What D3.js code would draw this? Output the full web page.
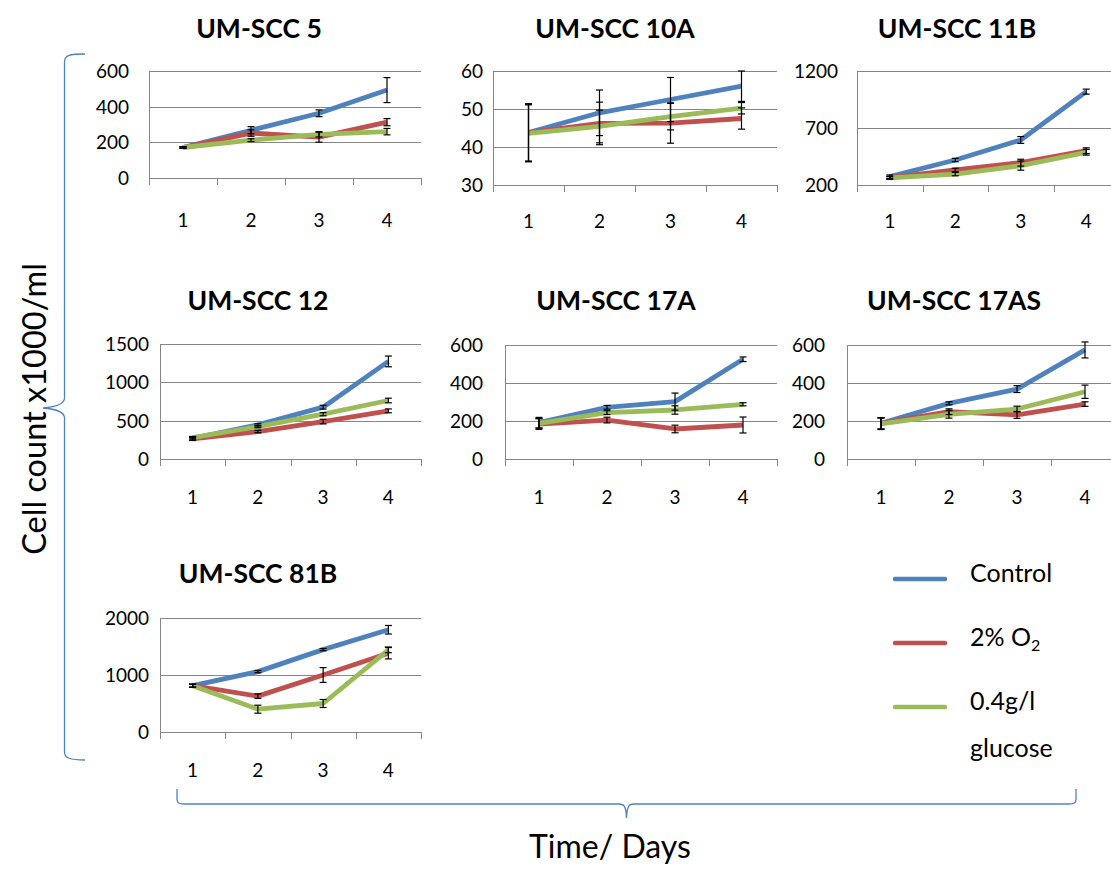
<!DOCTYPE html>
<html>
<head>
<meta charset="utf-8">
<script src="https://cdn.jsdelivr.net/npm/d3@7"></script>
<style>
  html, body { margin: 0; padding: 0; background: #fff; }
  svg { display: block; font-family: Lato, "Open Sans", sans-serif; }
</style>
</head>
<body>
<svg id="chart" width="1111" height="869"></svg>
<script>
// Growth of UM-SCC cell lines over four days under three culture conditions.
const days = [1, 2, 3, 4];
const cellLines = ["UM-SCC 5", "UM-SCC 10A", "UM-SCC 11B", "UM-SCC 12", "UM-SCC 17A", "UM-SCC 17AS", "UM-SCC 81B"];
const seriesNames = ["Control", "2% O2", "0.4g/l glucose"];

// Mean cell counts (x1000/ml), one row per cell line
const control = [
  [171, 268, 363, 493],
  [43.8, 49.0, 52.5, 56.0],
  [273, 419, 595, 1019],
  [270, 445, 676, 1273],
  [191, 272, 302, 525],
  [188, 293, 368, 574],
  [812, 1059, 1445, 1794]
];
const lowOxygen = [
  [171, 252, 229, 313],
  [43.8, 46.2, 46.3, 47.5],
  [265, 332, 396, 501],
  [262, 358, 488, 628],
  [184, 205, 158, 179],
  [188, 249, 232, 289],
  [812, 629, 1000, 1382]
];
const lowGlucose = [
  [171, 212, 245, 260],
  [43.6, 45.4, 48.0, 50.2],
  [262, 296, 370, 487],
  [279, 423, 584, 763],
  [188, 244, 258, 288],
  [185, 235, 263, 354],
  [812, 400, 500, 1441]
];

// Error bar half-widths (standard deviation)
const controlErr = [
  [4, 20, 19, 70],
  [7.6, 6.0, 5.8, 4.0],
  [15, 15, 30, 22],
  [20, 15, 25, 70],
  [28, 10, 45, 12],
  [30, 8, 18, 42],
  [30, 20, 20, 75]
];
const lowOxygenErr = [
  [4, 18, 28, 20],
  [7.5, 5.6, 5.3, 2.8],
  [12, 15, 30, 25],
  [20, 15, 30, 25],
  [28, 15, 20, 42],
  [30, 15, 18, 12],
  [25, 40, 130, 100]
];
const lowGlucoseErr = [
  [4, 8, 15, 18],
  [7.5, 4.3, 3.5, 1.5],
  [12, 15, 40, 25],
  [15, 15, 20, 30],
  [25, 10, 22, 8],
  [30, 20, 15, 35],
  [25, 70, 70, 50]
];

// Value axis ticks per cell line
const yTicks = [
  [0, 200, 400, 600],
  [30, 40, 50, 60],
  [200, 700, 1200],
  [0, 500, 1000, 1500],
  [0, 200, 400, 600],
  [0, 200, 400, 600],
  [0, 1000, 2000]
];

const colors = ["#4f81bd", "#c0504d", "#9bbb59"];
const means = [control, lowOxygen, lowGlucose];
const errs = [controlErr, lowOxygenErr, lowGlucoseErr];

// Plot frames of the small multiples
const frames = [
  { left: 149, right: 421, top: 71, bottom: 178, labelRight: 129, catY: 226.5, titleX: 259, titleY: 38 },
  { left: 493, right: 777, top: 71, bottom: 185, labelRight: 483, catY: 228, titleX: 615, titleY: 38 },
  { left: 857, right: 1119, top: 71, bottom: 185, labelRight: 838, catY: 228, titleX: 957, titleY: 38 },
  { left: 160, right: 421, top: 344, bottom: 459, labelRight: 149, catY: 503.5, titleX: 258, titleY: 310 },
  { left: 505, right: 777, top: 345, bottom: 459, labelRight: 483, catY: 503.5, titleX: 616, titleY: 310 },
  { left: 847, right: 1119, top: 345, bottom: 459, labelRight: 825, catY: 503.5, titleX: 954, titleY: 310 },
  { left: 160, right: 421, top: 618, bottom: 732, labelRight: 149, catY: 776.5, titleX: 258, titleY: 583 }
];

const svg = d3.select("#chart");
const gridColor = "#868686";

cellLines.forEach((name, i) => {
  const f = frames[i];
  const ticks = yTicks[i];
  const x = d3.scaleBand().domain(days).range([f.left, f.right]).padding(0);
  const y = d3.scaleLinear().domain([ticks[0], ticks[ticks.length - 1]]).range([f.bottom, f.top]);
  const g = svg.append("g");

  // title
  g.append("text")
    .attr("x", f.titleX).attr("y", f.titleY)
    .attr("text-anchor", "middle")
    .attr("font-size", 26.5).attr("font-weight", 700)
    .attr("fill", "#000")
    .text(name);

  // horizontal gridlines
  g.selectAll("line.grid").data(ticks).enter().append("line")
    .attr("x1", f.left).attr("x2", f.right)
    .attr("y1", d => Math.round(y(d)) + 0.5).attr("y2", d => Math.round(y(d)) + 0.5)
    .attr("stroke", gridColor).attr("stroke-width", 1);

  // value axis line
  g.append("line")
    .attr("x1", f.left + 0.5).attr("x2", f.left + 0.5)
    .attr("y1", y.range()[1]).attr("y2", f.bottom + 7)
    .attr("stroke", gridColor).attr("stroke-width", 1);

  // value labels
  g.selectAll("text.ylab").data(ticks).enter().append("text")
    .attr("x", f.labelRight).attr("y", d => y(d))
    .attr("dy", "0.36em")
    .attr("text-anchor", "end")
    .attr("font-size", 19).attr("fill", "#000")
    .text(d => d);

  // category tick marks at band edges
  const edges = days.map(d => x(d)).concat([f.right]);
  g.selectAll("line.ctick").data(edges).enter().append("line")
    .attr("x1", d => Math.round(d) + 0.5).attr("x2", d => Math.round(d) + 0.5)
    .attr("y1", f.bottom).attr("y2", f.bottom + 7)
    .attr("stroke", gridColor).attr("stroke-width", 1);

  // category labels
  g.selectAll("text.xlab").data(days).enter().append("text")
    .attr("x", d => x(d) + x.bandwidth() / 2).attr("y", f.catY)
    .attr("text-anchor", "middle")
    .attr("font-size", 19).attr("fill", "#000")
    .text(d => d);

  // series lines
  const line = d3.line()
    .x((d, k) => x(days[k]) + x.bandwidth() / 2)
    .y(d => y(d));
  means.forEach((series, s) => {
    g.append("path")
      .attr("d", line(series[i]))
      .attr("fill", "none")
      .attr("stroke", colors[s])
      .attr("stroke-width", 4.8)
      .attr("stroke-linejoin", "round");
  });

  // error bars
  means.forEach((series, s) => {
    series[i].forEach((v, k) => {
      const cx = x(days[k]) + x.bandwidth() / 2;
      const e = errs[s][i][k];
      const y1 = y(v - e), y2 = y(v + e);
      const eb = g.append("g").attr("stroke", "#000").attr("stroke-width", 1.2);
      eb.append("line").attr("x1", cx).attr("x2", cx).attr("y1", y1).attr("y2", y2);
      eb.append("line").attr("x1", cx - 3.5).attr("x2", cx + 3.5).attr("y1", y1).attr("y2", y1);
      eb.append("line").attr("x1", cx - 3.5).attr("x2", cx + 3.5).attr("y1", y2).attr("y2", y2);
    });
  });
});

// legend
const legend = svg.append("g");
const legendRows = [579, 643, 707];
seriesNames.forEach((n, s) => {
  legend.append("line")
    .attr("x1", 895).attr("x2", 945)
    .attr("y1", legendRows[s]).attr("y2", legendRows[s])
    .attr("stroke", colors[s]).attr("stroke-width", 4.5)
    .attr("stroke-linecap", "round");
});
legend.append("text").attr("x", 970).attr("y", 582)
  .attr("font-size", 25).attr("fill", "#000").text("Control");
const o2 = legend.append("text").attr("x", 970).attr("y", 646)
  .attr("font-size", 25).attr("fill", "#000");
o2.append("tspan").text("2% O");
o2.append("tspan").attr("font-size", 16).attr("dy", 5).text("2");
legend.append("text").attr("x", 970).attr("y", 710)
  .attr("font-size", 25).attr("fill", "#000").text("0.4g/l");
legend.append("text").attr("x", 970).attr("y", 757)
  .attr("font-size", 25).attr("fill", "#000").text("glucose");

// braces and axis titles
const braceColor = "#4f81bd";
svg.append("path")
  .attr("d", "M85,54 C70,54 64.5,55 64.5,62 L64.5,398 C64.5,404 55,407 43,408 C55,409 64.5,412 64.5,418 L64.5,752 C64.5,758 70,760 85,760")
  .attr("fill", "none").attr("stroke", braceColor).attr("stroke-width", 1.3);
svg.append("path")
  .attr("d", "M177,789 L177,799 C177,803 179,804 184,804 L619,804 C624,804 626,806 626.5,818 C627,806 629,804 634,804 L1069,804 C1074,804 1076,803 1076,799 L1076,789")
  .attr("fill", "none").attr("stroke", braceColor).attr("stroke-width", 1.3);

svg.append("text")
  .attr("transform", "translate(46,409) rotate(-90)")
  .attr("text-anchor", "middle")
  .attr("font-size", 32.5).attr("fill", "#000")
  .text("Cell count x1000/ml");

svg.append("text")
  .attr("x", 610).attr("y", 858)
  .attr("text-anchor", "middle")
  .attr("font-size", 32).attr("fill", "#000")
  .text("Time/ Days");
</script>
</body>
</html>
